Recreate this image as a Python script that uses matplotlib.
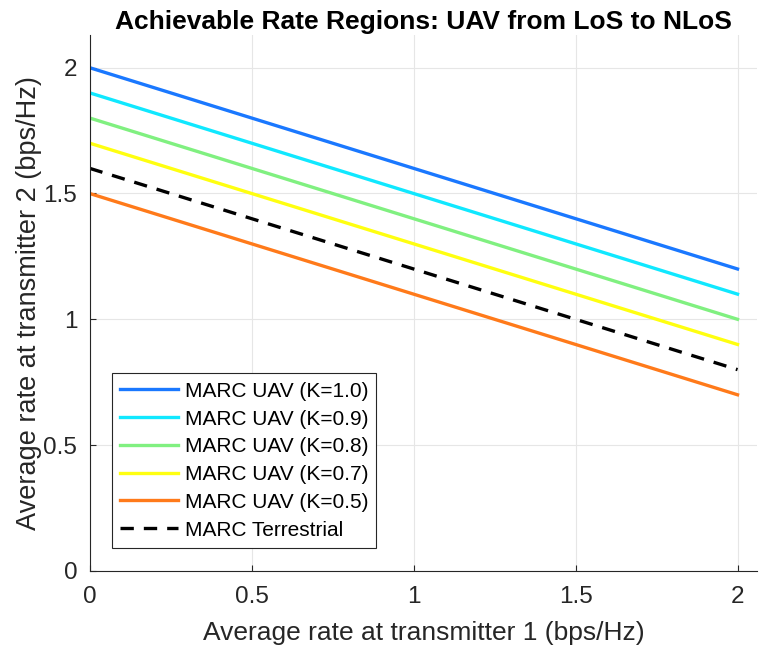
import numpy as np
import matplotlib.pyplot as plt

plt.rcParams['font.family'] = ['Liberation Sans', 'DejaVu Sans']

# rate at transmitter 1 (bps/Hz), end points of each line
rate1 = [0.0, 2.0]

labels = ['MARC UAV (K=1.0)', 'MARC UAV (K=0.9)', 'MARC UAV (K=0.8)',
          'MARC UAV (K=0.7)', 'MARC UAV (K=0.5)']
uav_rate2 = [[2.0, 1.2], [1.9, 1.1], [1.8, 1.0], [1.7, 0.9], [1.5, 0.7]]
colors = ['#1a78ff', '#10e8ff', '#80f080', '#ffff10', '#ff7a1a']

terr_rate2 = [1.6, 0.8]

fig = plt.figure(figsize=(7.6, 6.48), dpi=100)
ax = fig.add_axes([0.118, 0.119, 0.878, 0.827])

for r2, c, lab in zip(uav_rate2, colors, labels):
    ax.plot(rate1, r2, color=c, lw=2.4, label=lab)
ax.plot(rate1, terr_rate2, color='black', lw=2.4, ls=(0, (4, 3)), label='MARC Terrestrial')

ax.set_xlim(0, 2.06)
ax.set_ylim(0, 2.13)
ax.set_xticks([0, 0.5, 1, 1.5, 2])
ax.set_yticks([0, 0.5, 1, 1.5, 2])
ax.set_xticklabels(['0', '0.5', '1', '1.5', '2'])
ax.set_yticklabels(['0', '0.5', '1', '1.5', '2'])
ax.grid(True, color='#e6e6e6', lw=0.8)
ax.set_axisbelow(True)
for s in ['top', 'right']:
    ax.spines[s].set_visible(False)
for s in ['left', 'bottom']:
    ax.spines[s].set_color('#262626')
ax.tick_params(direction='in', labelsize=17.5, colors='#262626', length=4)
ax.tick_params(axis='x', pad=11)
ax.tick_params(axis='y', pad=9)

ax.set_xlabel('Average rate at transmitter 1 (bps/Hz)', fontsize=19, color='#262626',
              labelpad=9)
ax.set_ylabel('Average rate at transmitter 2 (bps/Hz)', fontsize=19.5, color='#262626',
              labelpad=1)
ax.set_title('Achievable Rate Regions: UAV from LoS to NLoS', fontsize=19,
             fontweight='bold', pad=4)

leg = ax.legend(loc='lower left', bbox_to_anchor=(0.033, 0.043), borderaxespad=0,
                fontsize=15, fancybox=False, framealpha=1, edgecolor='#262626',
                handlelength=2.8, handletextpad=0.3, borderpad=0.4,
                labelspacing=0.42)
leg.get_frame().set_linewidth(0.8)

fig.savefig('out.png', dpi=100)
